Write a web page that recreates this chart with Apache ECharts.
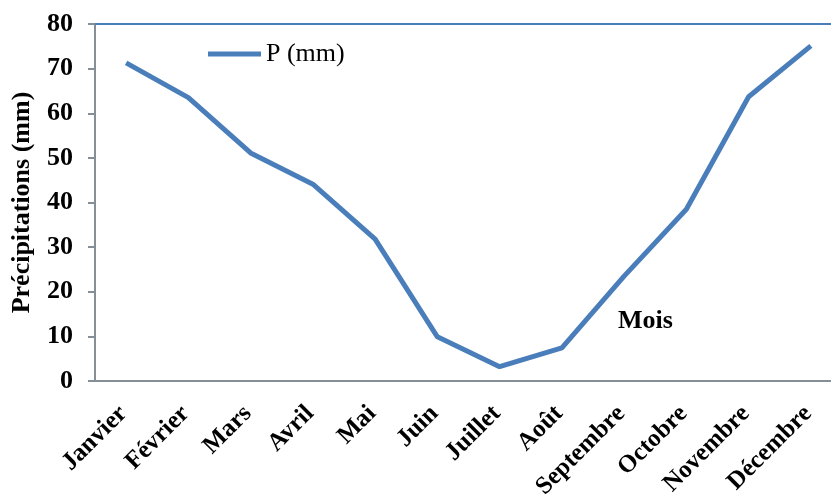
<!DOCTYPE html>
<html><head><meta charset="utf-8">
<script src="https://cdn.jsdelivr.net/npm/echarts@6/dist/echarts.min.js"></script>
<style>html,body{margin:0;padding:0;background:#fff}#c{width:831px;height:497px}</style>
</head><body><div id="c"></div>
<script>
const months = ['Janvier','Février','Mars','Avril','Mai','Juin','Juillet','Août','Septembre','Octobre','Novembre','Décembre'];
const precip = [71.3, 63.5, 51.1, 44.1, 31.8, 9.9, 3.2, 7.4, 23.5, 38.5, 63.7, 75.1];
const seriesName = 'P (mm)';
const yTitle = 'Précipitations (mm)';
const xTitle = 'Mois';
const F = '"Liberation Serif","Times New Roman",serif';
const chart = echarts.init(document.getElementById('c'));
chart.setOption({
  animation: false,
  grid: {left: 95, top: 24, width: 747, height: 357, containLabel: false, outerBoundsMode: 'none'},
  legend: {
    data: [seriesName], left: 203, top: 36, itemWidth: 53, itemHeight: 5, itemGap: 4,
    icon: 'path://M0,0 L53,0 L53,5 L0,5 Z',
    textStyle: {fontFamily: F, fontSize: 26, color: '#000'}
  },
  xAxis: [{
    type: 'category', data: months, boundaryGap: true,
    axisLine: {show: true, lineStyle: {color: '#868e96', width: 2}},
    axisTick: {show: false},
    axisLabel: {rotate: 45, interval: 0, margin: 26, padding: [0, 4, 0, 0], fontFamily: F, fontWeight: 'bold', fontSize: 25, color: '#000'}
  }, {
    type: 'category', data: months, position: 'top',
    axisLine: {show: true, lineStyle: {color: '#4a7ebb', width: 2}},
    axisTick: {show: false}, axisLabel: {show: false}
  }],
  yAxis: {
    type: 'value', min: 0, max: 80, interval: 10,
    name: yTitle, nameLocation: 'middle', nameGap: 60, nameRotate: 90,
    nameTextStyle: {fontFamily: F, fontWeight: 'bold', fontSize: 26, color: '#000'},
    axisLine: {show: true, lineStyle: {color: '#868e96', width: 2}},
    axisTick: {show: true, length: 7, lineStyle: {color: '#868e96', width: 2}},
    splitLine: {show: false},
    axisLabel: {margin: 22, fontFamily: F, fontWeight: 'bold', fontSize: 26, color: '#000'}
  },
  graphic: [{
    type: 'text', left: 618, top: 308,
    style: {text: xTitle, font: 'bold 26px ' + F, fill: '#000'}
  }],
  series: [{
    name: seriesName, type: 'line', data: precip,
    symbol: 'none', lineStyle: {color: '#4a7ebb', width: 5},
    itemStyle: {color: '#4a7ebb'}
  }]
});
</script></body></html>
